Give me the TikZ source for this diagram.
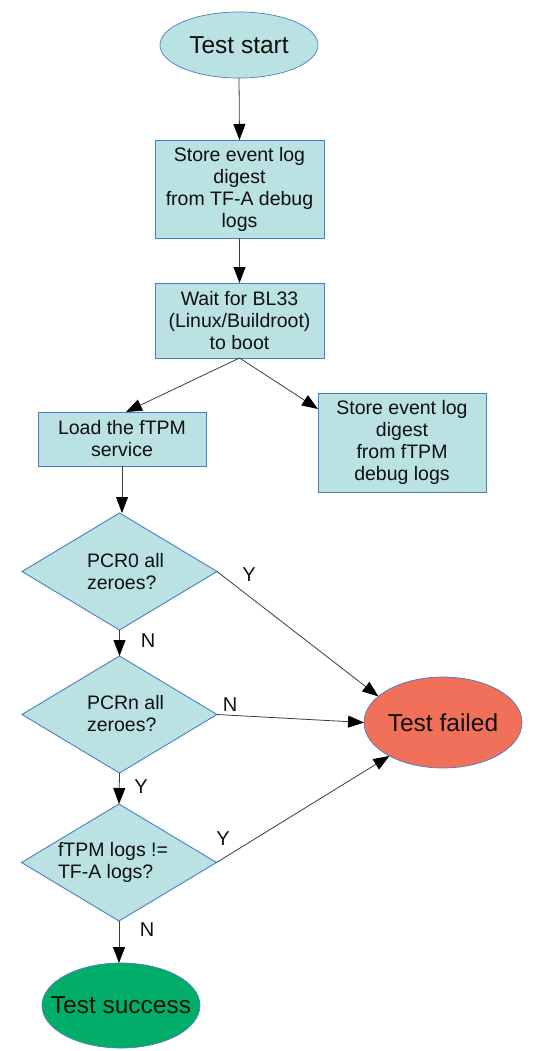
\documentclass[tikz,border=0pt]{standalone}
\usepackage{fontspec}
\setmainfont{Liberation Sans}
\usetikzlibrary{shapes.geometric,arrows.meta}
\definecolor{boxfill}{RGB}{186,226,226}
\definecolor{boxline}{RGB}{74,126,190}
\definecolor{failfill}{RGB}{240,112,90}
\definecolor{succfill}{RGB}{0,174,106}
\definecolor{conn}{RGB}{60,60,60}
\definecolor{txt}{RGB}{15,15,15}
\tikzset{
  x=1pt, y=-1pt,
  every node/.style={text=txt, inner sep=0pt, outer sep=0pt},
  boxtext/.style={font=\fontsize{19.5}{22}\selectfont},
  bigtext/.style={font=\fontsize{24.5}{28}\selectfont},
  procbox/.style={draw=boxline, fill=boxfill, line width=0.9pt, rectangle, align=center, boxtext},
  decbox/.style={draw=boxline, fill=boxfill, line width=0.9pt, diamond, minimum width=195pt, minimum height=117pt},
  termshape/.style={draw=boxline, line width=0.7pt, ellipse, bigtext, inner xsep=-20pt},
  dectext/.style={align=left, boxtext},
  yn/.style={font=\fontsize{20}{22}\selectfont},
  conn/.style={draw=conn, line width=0.8pt, -{Triangle[length=16pt,width=12pt,color=black]}},
}
\begin{document}
\begin{tikzpicture}
\useasboundingbox (0,0) rectangle (539,1051);
% nodes
\node[termshape, fill=boxfill, minimum width=158pt, minimum height=66pt] (start) at (239,45) {Test start};
\node[procbox, minimum width=169pt, minimum height=98pt] (b1) at (239.5,189) {Store event log\\digest\\from TF-A debug\\logs};
\node[procbox, minimum width=169pt, minimum height=75pt] (b2) at (239.5,320.5) {Wait for BL33\\(Linux/Buildroot)\\to boot};
\node[procbox, minimum width=168pt, minimum height=54pt] (load) at (122,439) {Load the fTPM\\service};
\node[procbox, minimum width=168pt, minimum height=99pt] (store) at (402,442.5) {Store event log\\digest\\from fTPM\\debug logs};
\node[decbox] (d1) at (119.5,571.5) {};
\node[dectext, anchor=west] (d1t) at (87,571.5) {PCR0 all\\zeroes?};
\node[decbox] (d2) at (119.5,714.5) {};
\node[dectext, anchor=west] (d2t) at (87,714) {PCRn all\\zeroes?};
\node[decbox] (d3) at (119,862.5) {};
\node[dectext, anchor=west] (d3t) at (58,862) {fTPM logs !=\\TF-A logs?};
\node[termshape, fill=failfill, minimum width=158pt, minimum height=91pt] (fail) at (443,722.5) {Test failed};
\node[termshape, fill=succfill, minimum width=158pt, minimum height=85pt] (succ) at (121,1005.5) {Test success};
% labels
\node[yn] (l1y) at (249,575) {Y};
\node[yn] (l1n) at (148,641) {N};
\node[yn] (l2n) at (230,705) {N};
\node[yn] (l2y) at (141,787) {Y};
\node[yn] (l3y) at (223,839) {Y};
\node[yn] (l3n) at (147,930) {N};
% connectors
\draw[conn] (start.south) -- (b1.north);
\draw[conn] (b1.south) -- (b2.north);
\draw[conn] (b2.south) -- ([xshift=4pt]load.north);
\draw[conn] (b2.south) -- ([yshift=-16pt]store.north west);
\draw[conn] (load.south) -- (load.south |- d1.north);
\draw[conn] (d1.south) -- (d2.north);
\draw[conn] (d1.east) -- (fail.158);
\draw[conn] (d2.east) -- (fail.west);
\draw[conn] (d2.south) -- (d3.north);
\draw[conn] (d3.east) -- (fail.212);
\draw[conn] (d3.south) -- (d3.south |- succ.north);
\end{tikzpicture}
\end{document}
